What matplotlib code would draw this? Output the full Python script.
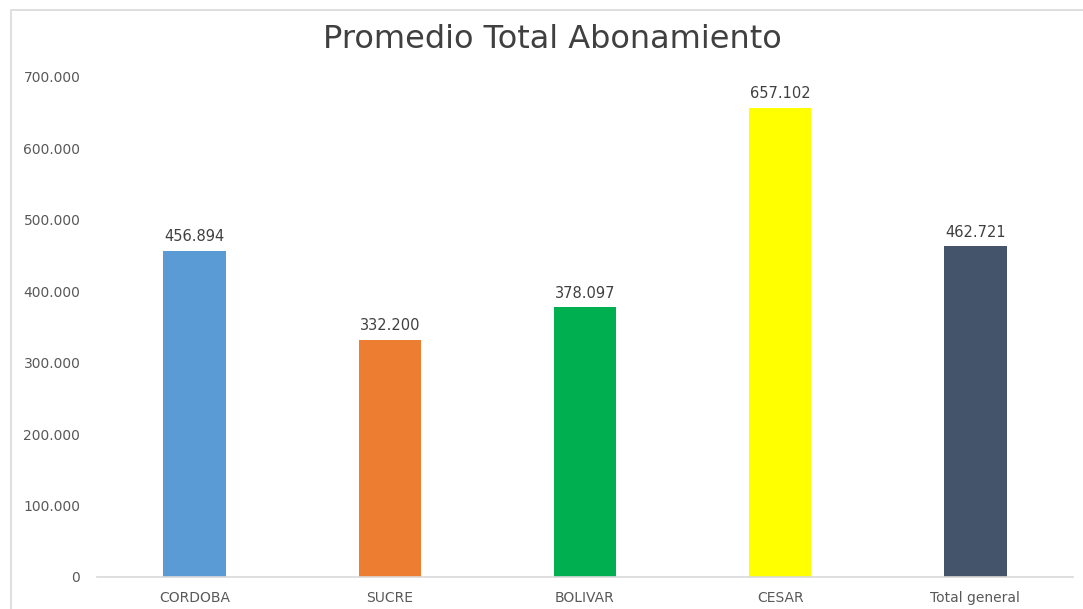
import matplotlib.pyplot as plt
from matplotlib.ticker import FuncFormatter, MultipleLocator
from matplotlib.patches import Rectangle

# Data
categories = ["CORDOBA", "SUCRE", "BOLIVAR", "CESAR", "Total general"]
values = [456894, 332200, 378097, 657102, 462721]
colors = ["#5B9BD5", "#ED7D31", "#00B050", "#FFFF00", "#44546A"]


def miles(x):
    # Spanish style thousands separator
    return f"{int(round(x)):,}".replace(",", ".")


plt.rcParams["font.family"] = ["DejaVu Sans"]

fig = plt.figure(figsize=(10.83, 6.09), dpi=100)
ax = fig.add_axes([97 / 1083, 1 - 577 / 609, 976 / 1083, 500 / 609])

# Chart frame like the spreadsheet chart area
fig.patches.append(Rectangle((11 / 1083, -0.05), 1.2, 1 - 10 / 609 + 0.05,
                             transform=fig.transFigure, fill=False,
                             edgecolor="#D9D9D9", linewidth=1.2))

x = range(len(categories))
bars = ax.bar(x, values, width=0.32, color=colors)

for b, v in zip(bars, values):
    ax.text(b.get_x() + b.get_width() / 2, v + 9000, miles(v),
            ha="center", va="bottom", fontsize=10.5, color="#404040")

ax.set_xlim(-0.5, len(categories) - 0.5)
ax.set_ylim(0, 700000)
ax.yaxis.set_major_locator(MultipleLocator(100000))
ax.yaxis.set_major_formatter(FuncFormatter(lambda v, pos: miles(v)))
ax.set_xticks(list(x))
ax.set_xticklabels(categories)

for s in ["top", "right", "left"]:
    ax.spines[s].set_visible(False)
ax.spines["bottom"].set_color("#D9D9D9")
ax.spines["bottom"].set_linewidth(1.2)
ax.tick_params(axis="both", length=0, labelsize=10, colors="#595959")
ax.tick_params(axis="y", pad=12)
ax.tick_params(axis="x", pad=10)

fig.text(552 / 1083, 1 - 40 / 609, "Promedio Total Abonamiento",
         ha="center", va="center", fontsize=23, color="#404040")

fig.savefig("out.png", dpi=100)
